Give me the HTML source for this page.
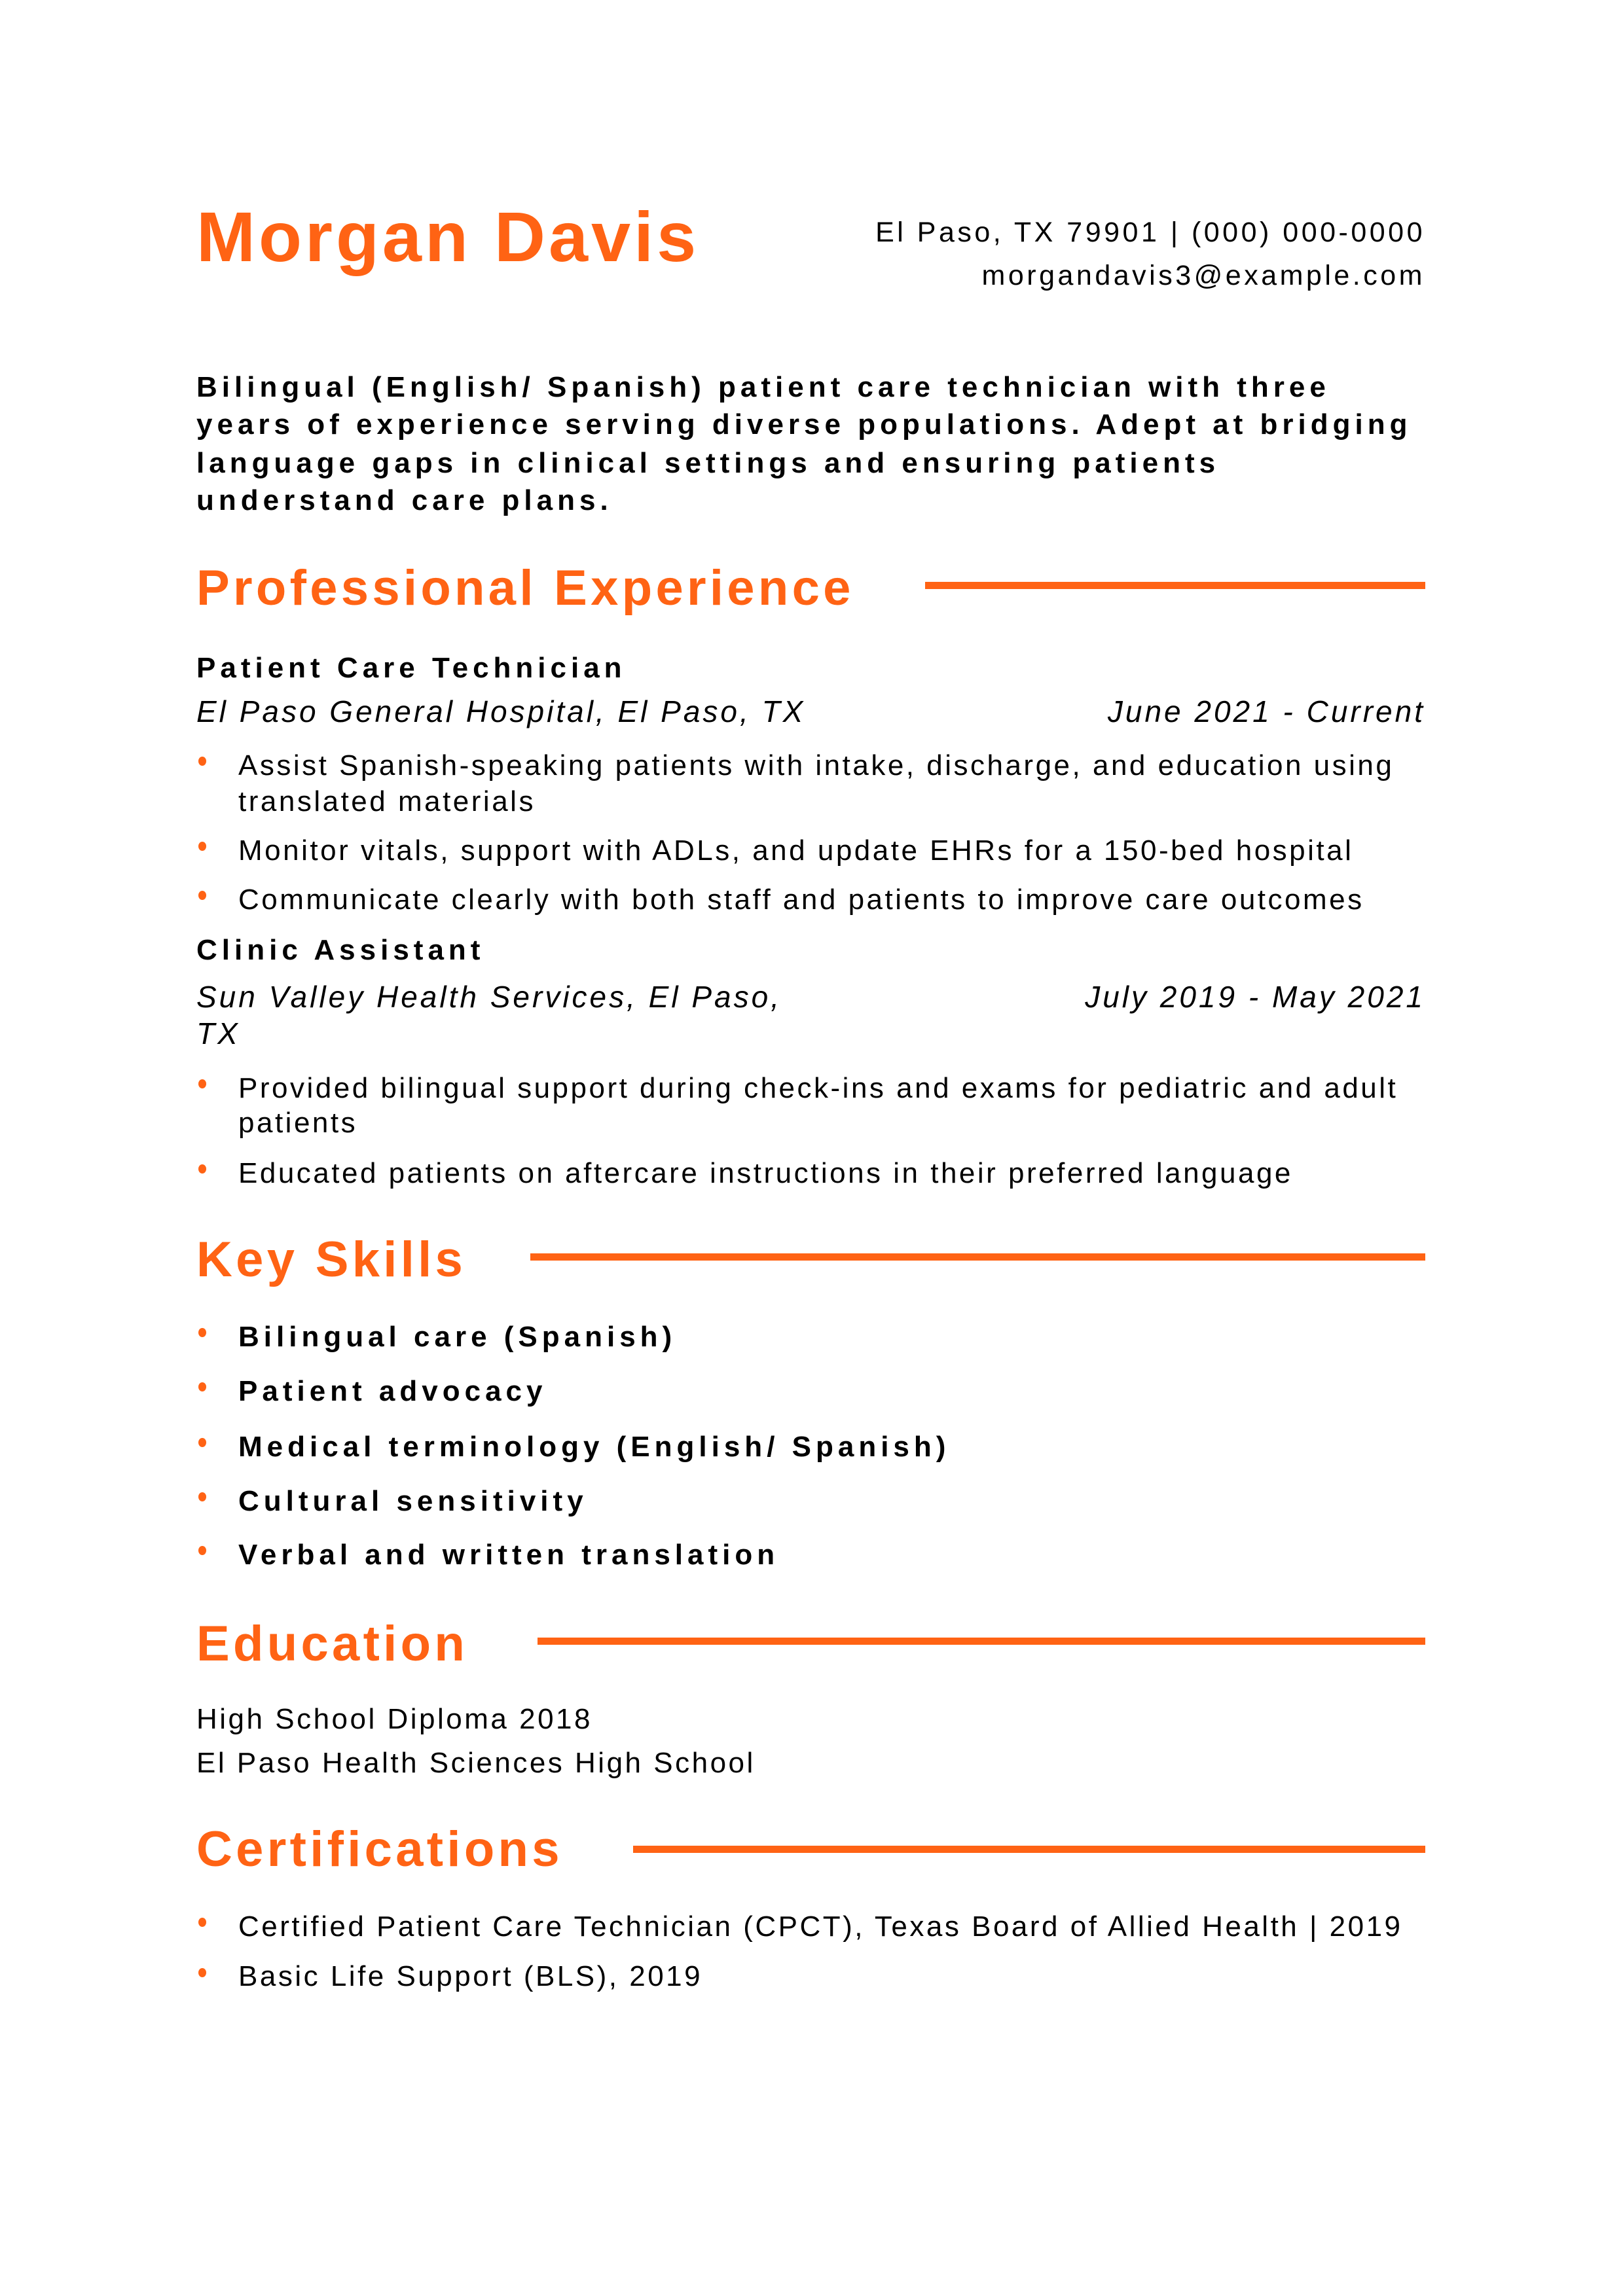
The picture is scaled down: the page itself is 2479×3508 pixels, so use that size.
<!DOCTYPE html>
<html><head><meta charset="utf-8">
<style>
html,body{margin:0;padding:0;background:#fff;}
body{width:2479px;height:3508px;position:relative;overflow:hidden;font-family:"Liberation Sans",Arial,sans-serif;color:#000;}
.t{position:absolute;white-space:nowrap;line-height:1;}
.o{color:#FF6314;}
.h{font-size:76px;font-weight:bold;letter-spacing:5.3px;color:#FF6314;}
.b{font-size:44px;letter-spacing:3.5px;}
.bb{font-size:44px;font-weight:bold;letter-spacing:7px;}
.it{font-size:46px;font-style:italic;letter-spacing:4px;}
.rule{position:absolute;height:11px;background:#FF6314;right:302px;}
.dot{position:absolute;width:12px;height:14px;border-radius:50%;background:#FF6314;left:303px;}
</style></head><body>

<div class="t o" style="left:300px;top:308px;font-size:108px;font-weight:bold;letter-spacing:5px;">Morgan Davis</div>
<div class="t" style="right:302px;top:334px;font-size:43px;letter-spacing:4.5px;">El Paso, TX 79901 | (000) 000-0000</div>
<div class="t" style="right:302px;top:400px;font-size:43px;letter-spacing:4.5px;">morgandavis3@example.com</div>

<div class="t bb" style="left:300px;top:570px;">Bilingual (English/ Spanish) patient care technician with three</div>
<div class="t bb" style="left:300px;top:627px;">years of experience serving diverse populations. Adept at bridging</div>
<div class="t bb" style="left:300px;top:686px;">language gaps in clinical settings and ensuring patients</div>
<div class="t bb" style="left:300px;top:743px;">understand care plans.</div>

<div class="t h" style="left:300px;top:861px;">Professional Experience</div>
<div class="rule" style="left:1413px;top:889px;"></div>

<div class="t bb" style="left:300px;top:999px;">Patient Care Technician</div>
<div class="t it" style="left:300px;top:1064px;">El Paso General Hospital, El Paso, TX</div>
<div class="t it" style="right:302px;top:1064px;">June 2021 - Current</div>

<div class="dot" style="top:1156px;"></div>
<div class="t b" style="left:364px;top:1148px;">Assist Spanish-speaking patients with intake, discharge, and education using</div>
<div class="t b" style="left:364px;top:1203px;">translated materials</div>
<div class="dot" style="top:1286px;"></div>
<div class="t b" style="left:364px;top:1278px;">Monitor vitals, support with ADLs, and update EHRs for a 150-bed hospital</div>
<div class="dot" style="top:1361px;"></div>
<div class="t b" style="left:364px;top:1353px;">Communicate clearly with both staff and patients to improve care outcomes</div>

<div class="t bb" style="left:300px;top:1430px;">Clinic Assistant</div>
<div class="t it" style="left:300px;top:1500px;">Sun Valley Health Services, El Paso,</div>
<div class="t it" style="left:300px;top:1556px;">TX</div>
<div class="t it" style="right:302px;top:1500px;">July 2019 - May 2021</div>

<div class="dot" style="top:1649px;"></div>
<div class="t b" style="left:364px;top:1641px;">Provided bilingual support during check-ins and exams for pediatric and adult</div>
<div class="t b" style="left:364px;top:1694px;">patients</div>
<div class="dot" style="top:1779px;"></div>
<div class="t b" style="left:364px;top:1771px;">Educated patients on aftercare instructions in their preferred language</div>

<div class="t h" style="left:300px;top:1887px;">Key Skills</div>
<div class="rule" style="left:810px;top:1915px;"></div>

<div class="dot" style="top:2029px;"></div>
<div class="t bb" style="left:364px;top:2021px;">Bilingual care (Spanish)</div>
<div class="dot" style="top:2112px;"></div>
<div class="t bb" style="left:364px;top:2104px;">Patient advocacy</div>
<div class="dot" style="top:2197px;"></div>
<div class="t bb" style="left:364px;top:2189px;">Medical terminology (English/ Spanish)</div>
<div class="dot" style="top:2280px;"></div>
<div class="t bb" style="left:364px;top:2272px;">Cultural sensitivity</div>
<div class="dot" style="top:2362px;"></div>
<div class="t bb" style="left:364px;top:2354px;">Verbal and written translation</div>

<div class="t h" style="left:300px;top:2474px;">Education</div>
<div class="rule" style="left:821px;top:2502px;"></div>
<div class="t b" style="left:300px;top:2605px;">High School Diploma 2018</div>
<div class="t b" style="left:300px;top:2672px;">El Paso Health Sciences High School</div>

<div class="t h" style="left:300px;top:2788px;">Certifications</div>
<div class="rule" style="left:967px;top:2820px;"></div>
<div class="dot" style="top:2930px;"></div>
<div class="t b" style="left:364px;top:2922px;">Certified Patient Care Technician (CPCT), Texas Board of Allied Health | 2019</div>
<div class="dot" style="top:3007px;"></div>
<div class="t b" style="left:364px;top:2998px;">Basic Life Support (BLS), 2019</div>

</body></html>
